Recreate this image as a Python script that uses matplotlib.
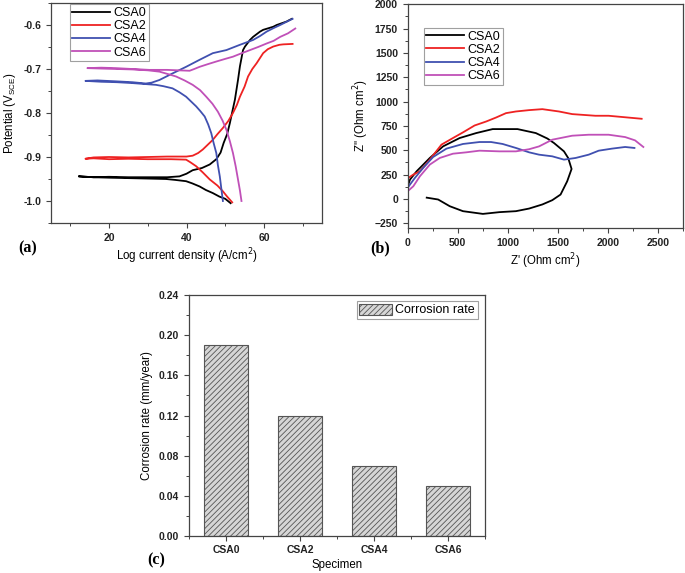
import matplotlib
matplotlib.use("Agg")
import matplotlib.pyplot as plt
from matplotlib.ticker import MultipleLocator, FormatStrFormatter, FixedLocator

plt.rcParams['font.family'] = ['Liberation Sans', 'DejaVu Sans']
plt.rcParams['hatch.color'] = '#555555'
plt.rcParams['hatch.linewidth'] = 0.6

# ---------------- data ----------------
series = ["CSA0", "CSA2", "CSA4", "CSA6"]
colors = ["#000000", "#ee2222", "#4050b0", "#c050b8"]

# (a) polarization curves: log current density, potential
a_csa0_x = [51.4, 50.0, 48.5, 46.8, 45.0, 43.4, 41.5, 39.9, 37.0, 34.7, 30.0, 25.0, 20.0, 16.0, 12.2,
            16.0, 20.0, 25.0, 30.0, 35.0, 38.2, 40.0, 41.6, 44.0, 46.0, 47.7, 48.8, 49.6, 50.5, 51.2,
            52.0, 52.5, 53.3, 53.8, 54.6, 55.1, 56.4, 57.2, 59.0, 59.8, 62.4, 63.3, 65.9, 66.3, 67.2]
a_csa0_y = [-1.005, -0.995, -0.990, -0.982, -0.975, -0.967, -0.960, -0.955, -0.952, -0.950, -0.949,
            -0.948, -0.947, -0.946, -0.944,
            -0.946, -0.945, -0.946, -0.946, -0.946, -0.944, -0.938, -0.930, -0.925, -0.917, -0.905,
            -0.890, -0.868, -0.848, -0.823, -0.790, -0.770, -0.725, -0.694, -0.657, -0.649, -0.634,
            -0.627, -0.615, -0.611, -0.604, -0.600, -0.592, -0.590, -0.586]

a_csa2_x = [51.8, 50.5, 49.4, 48.0, 46.0, 44.2, 42.5, 41.0, 39.9, 36.0, 30.0, 25.0, 20.0, 16.0, 13.9,
            16.0, 20.0, 25.0, 30.0, 35.0, 40.0, 41.6, 43.0, 44.2, 45.5, 46.8, 48.0, 49.4, 50.8, 52.0,
            53.0, 53.8, 55.0, 55.9, 57.0, 58.1, 59.8, 61.0, 62.4, 64.0, 65.0, 67.4]
a_csa2_y = [-1.003, -0.990, -0.978, -0.965, -0.951, -0.935, -0.921, -0.912, -0.906, -0.905, -0.905,
            -0.904, -0.905, -0.903, -0.904,
            -0.901, -0.900, -0.901, -0.900, -0.899, -0.899, -0.897, -0.891, -0.883, -0.872, -0.861,
            -0.848, -0.834, -0.818, -0.800, -0.782, -0.763, -0.740, -0.717, -0.700, -0.687, -0.664,
            -0.655, -0.649, -0.645, -0.644, -0.643]

a_csa4_x = [49.4, 49.0, 48.6, 48.1, 47.7, 47.0, 46.4, 45.6, 44.7, 43.6, 42.5, 41.2, 39.9, 38.2, 36.4,
            34.0, 32.1, 29.0, 26.0, 22.0, 18.0, 13.9,
            17.0, 21.7, 26.0, 29.5, 31.0, 33.0, 36.4, 39.9, 43.4, 46.8, 50.3, 53.8, 57.2, 59.0, 60.7,
            62.5, 64.2, 66.0, 67.4]
a_csa4_y = [-1.000, -0.972, -0.944, -0.918, -0.891, -0.868, -0.846, -0.826, -0.808, -0.796, -0.785,
            -0.774, -0.763, -0.753, -0.744, -0.739, -0.736, -0.734, -0.732, -0.730, -0.729, -0.727,
            -0.726, -0.728, -0.730, -0.733, -0.731, -0.725, -0.710, -0.695, -0.679, -0.664, -0.657,
            -0.645, -0.634, -0.625, -0.615, -0.607, -0.600, -0.592, -0.586]

a_csa6_x = [54.2, 53.8, 53.3, 52.7, 52.0, 51.2, 50.3, 49.3, 48.1, 46.7, 45.1, 43.5, 41.6, 39.5, 37.3,
            35.0, 33.0, 30.0, 26.0, 22.0, 18.0, 14.4,
            18.0, 21.7, 26.0, 30.4, 35.0, 40.8, 42.0, 43.4, 45.5, 47.7, 50.0, 52.0, 54.0, 56.4, 58.5,
            60.7, 62.5, 64.2, 66.2, 68.1]
a_csa6_y = [-1.000, -0.976, -0.951, -0.921, -0.891, -0.864, -0.838, -0.817, -0.797, -0.779, -0.763,
            -0.748, -0.736, -0.726, -0.717, -0.711, -0.706, -0.703, -0.701, -0.700, -0.699, -0.698,
            -0.697, -0.698, -0.700, -0.702, -0.702, -0.704, -0.700, -0.695, -0.689, -0.683, -0.677,
            -0.672, -0.665, -0.657, -0.650, -0.642, -0.636, -0.627, -0.619, -0.608]

# (b) Nyquist plots: Z' and Z''
b_csa0_x = [190, 304, 420, 552, 751, 916, 1081, 1213, 1345, 1444, 1527, 1593, 1637,
            1603, 1561, 1461, 1395, 1280, 1097, 849, 684, 519, 353, 221, 89, 23, 0]
b_csa0_y = [12, -7, -76, -127, -155, -137, -127, -100, -58, -14, 44, 180, 307,
            420, 488, 574, 620, 676, 717, 717, 676, 625, 539, 420, 283, 198, 129]

b_csa2_x = [0, 6, 56, 122, 221, 337, 452, 552, 668, 784, 883, 982, 1081, 1213, 1345, 1511, 1643,
            1875, 2007, 2337]
b_csa2_y = [130, 215, 249, 283, 403, 557, 625, 683, 754, 795, 836, 881, 898, 912, 922, 898, 871,
            854, 854, 823]

b_csa4_x = [0, 23, 72, 155, 254, 387, 552, 717, 833, 948, 1081, 1213, 1312, 1444, 1561, 1677, 1808,
            1908, 2040, 2172, 2265]
b_csa4_y = [113, 147, 215, 318, 430, 516, 564, 584, 584, 564, 523, 478, 454, 437, 403, 420, 454,
            495, 516, 533, 523]

b_csa6_x = [0, 56, 122, 221, 320, 452, 585, 717, 916, 1081, 1213, 1312, 1444, 1643, 1808, 2007,
            2172, 2271, 2354]
b_csa6_y = [78, 129, 232, 352, 420, 464, 478, 495, 488, 488, 510, 539, 608, 649, 659, 659,
            635, 601, 533]

# (c) corrosion rate
c_rates = [0.19, 0.12, 0.07, 0.05]

a_data = [(a_csa0_x, a_csa0_y), (a_csa2_x, a_csa2_y), (a_csa4_x, a_csa4_y), (a_csa6_x, a_csa6_y)]
b_data = [(b_csa0_x, b_csa0_y), (b_csa2_x, b_csa2_y), (b_csa4_x, b_csa4_y), (b_csa6_x, b_csa6_y)]

# ---------------- figure ----------------
W, H = 685, 573
fig = plt.figure(figsize=(W / 100, H / 100), dpi=100)


def ax_px(l, t, r, b):
    return fig.add_axes([l / W, 1 - b / H, (r - l) / W, (b - t) / H])


spine_c = '#444444'
tick_fs = 7.5
lab_fs = 8.3
leg_fs = 9


def style(ax):
    for s in ax.spines.values():
        s.set_color(spine_c)
        s.set_linewidth(0.9)
    ax.tick_params(which='both', direction='out', colors=spine_c, labelcolor='#222222',
                   labelsize=tick_fs, top=False, right=False)
    ax.tick_params(which='major', length=3.5, width=0.8)
    ax.tick_params(which='minor', length=2, width=0.7)
    for lbl in ax.get_xticklabels() + ax.get_yticklabels():
        lbl.set_fontweight('bold')


def leg_style(leg):
    leg.get_frame().set_linewidth(0.8)


# ---- (a)
axa = ax_px(51, 3, 322, 223)
for (x, y), c, n in zip(a_data, colors, series):
    axa.plot(x, y, color=c, lw=1.3, label=n)
axa.set_xlim(5, 75)
axa.set_ylim(-1.05, -0.55)
axa.xaxis.set_major_locator(MultipleLocator(20))
axa.xaxis.set_minor_locator(MultipleLocator(10))
axa.yaxis.set_major_locator(MultipleLocator(0.1))
axa.yaxis.set_minor_locator(MultipleLocator(0.05))
axa.yaxis.set_major_formatter(FormatStrFormatter('%.1f'))
axa.set_xlabel('Log current density (A/cm$^2$)', fontsize=lab_fs, labelpad=3)
axa.set_ylabel('Potential (V$_{\\mathregular{SCE}}$)', fontsize=lab_fs, labelpad=4)
style(axa)
leg_style(axa.legend(loc='upper left', bbox_to_anchor=(0.06, 1.005), fontsize=leg_fs, frameon=True,
                     fancybox=False, edgecolor='#888888', handlelength=3.0, borderpad=0.2,
                     labelspacing=0.1, handletextpad=0.3, borderaxespad=0.2))
fig.text(18 / W, 1 - 248 / H, '(a)', family='Liberation Serif', fontweight='bold', fontsize=11.5,
         va='center', ha='left')

# ---- (b)
axb = ax_px(407.7, 4.3, 683, 228)
for (x, y), c, n in zip(b_data, colors, series):
    axb.plot(x, y, color=c, lw=1.3, label=n)
axb.set_xlim(0, 2750)
axb.set_ylim(-300, 2000)
axb.xaxis.set_major_locator(MultipleLocator(500))
axb.xaxis.set_minor_locator(MultipleLocator(250))
axb.yaxis.set_major_locator(MultipleLocator(250))
axb.yaxis.set_minor_locator(MultipleLocator(125))
axb.set_xlabel("Z' (Ohm cm$^2$)", fontsize=lab_fs, labelpad=3)
axb.set_ylabel("Z'' (Ohm cm$^2$)", fontsize=lab_fs, labelpad=3)
style(axb)
leg_style(axb.legend(loc='upper left', bbox_to_anchor=(0.05, 0.905), fontsize=leg_fs, frameon=True,
                     fancybox=False, edgecolor='#888888', handlelength=3.0, borderpad=0.2,
                     labelspacing=0.1, handletextpad=0.3, borderaxespad=0.2))
fig.text(370 / W, 1 - 248 / H, '(b)', family='Liberation Serif', fontweight='bold', fontsize=11.5,
         va='center', ha='left')

# ---- (c)
axc = ax_px(189, 295, 485, 536)
pos = list(range(len(series)))
axc.bar(pos, c_rates, width=0.6, color='#d6d6d6', edgecolor='#555555', linewidth=0.8,
        hatch='//////', label='Corrosion rate')
axc.set_xlim(-0.5, 3.5)
axc.set_ylim(0, 0.24)
axc.set_xticks(pos)
axc.set_xticklabels(series)
axc.xaxis.set_minor_locator(FixedLocator([-0.5, 0.5, 1.5, 2.5, 3.5]))
axc.yaxis.set_major_locator(MultipleLocator(0.04))
axc.yaxis.set_minor_locator(MultipleLocator(0.02))
axc.yaxis.set_major_formatter(FormatStrFormatter('%.2f'))
axc.set_ylabel('Corrosion rate (mm/year)', fontsize=lab_fs, labelpad=4)
style(axc)
axc.tick_params(axis='x', which='major', pad=3)
fig.text(337 / W, 1 - 565 / H, 'Specimen', fontsize=lab_fs, ha='center', va='center')
leg_style(axc.legend(loc='upper right', bbox_to_anchor=(0.975, 0.975), fontsize=leg_fs, frameon=True,
                     fancybox=False, edgecolor='#888888', handlelength=2.6, handleheight=1.0,
                     borderpad=0.2, handletextpad=0.3, borderaxespad=0.0))
fig.text(147 / W, 1 - 560 / H, '(c)', family='Liberation Serif', fontweight='bold', fontsize=11.5,
         va='center', ha='left')

fig.savefig('out.png', dpi=100)
